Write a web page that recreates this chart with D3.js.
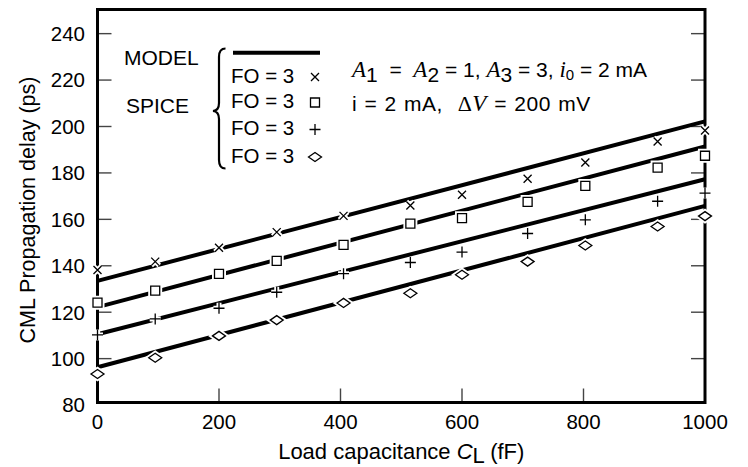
<!DOCTYPE html>
<html><head><meta charset="utf-8">
<script src="https://cdn.jsdelivr.net/npm/d3@7"></script>
<style>html,body{margin:0;padding:0;background:#fff;}svg{display:block;} text{white-space:pre;}</style>
</head><body>
<script>
// ---- data ----
const xValues = [0, 95, 200, 295, 405, 515, 600, 708, 803, 922, 1000];
const spiceCross   = [138.2, 141.8, 147.8, 154.5, 161.5, 166.0, 170.6, 177.5, 184.5, 193.5, 198.3];
const spiceSquare  = [124.1, 129.3, 136.5, 142.1, 149.0, 158.2, 160.5, 167.5, 174.4, 182.3, 187.4];
const spicePlus    = [110.2, 117.1, 121.7, 128.6, 136.6, 141.4, 145.9, 153.9, 159.8, 167.8, 171.3];
const spiceDiamond = [93.4, 100.4, 109.8, 116.6, 124.0, 128.2, 136.1, 141.8, 148.7, 156.9, 161.4];
const modelX = [0, 1000];
const modelCross   = [133.5, 202.2];
const modelSquare  = [122.2, 191.4];
const modelPlus    = [110.5, 177.3];
const modelDiamond = [96.3, 165.8];
const legendLabels = ["FO = 3", "FO = 3", "FO = 3", "FO = 3"];
const yTicks = [80, 100, 120, 140, 160, 180, 200, 220, 240];
const xTicks = [0, 200, 400, 600, 800, 1000];

const W = 748, H = 467;
const FONT = "'Liberation Sans', Arial, Helvetica, sans-serif";
const SERIF = "'Liberation Serif', 'Times New Roman', serif";

const svg = d3.select("body").append("svg").attr("width", W).attr("height", H)
  .style("font-family", FONT);

const x = d3.scaleLinear().domain([0, 1000]).range([97.5, 705]);
const y = d3.scaleLinear().domain([81.1, 250.4]).range([402.5, 9.5]);

// ticks (inward)
const tickG = svg.append("g").attr("stroke", "#444").attr("stroke-width", 1.4);
yTicks.filter(v => v > 81.1).forEach(v => {
  tickG.append("line").attr("x1", x(0)).attr("x2", x(0) + 14).attr("y1", y(v)).attr("y2", y(v));
  tickG.append("line").attr("x1", x(1000)).attr("x2", x(1000) - 14).attr("y1", y(v)).attr("y2", y(v));
});
xTicks.filter(v => v > 0 && v < 1000).forEach(v => {
  tickG.append("line").attr("x1", x(v)).attr("x2", x(v)).attr("y1", y(81.1)).attr("y2", y(81.1) - 14);
});

// frame
svg.append("rect").attr("x", x(0)).attr("y", y(250.4))
  .attr("width", x(1000) - x(0)).attr("height", y(81.1) - y(250.4))
  .attr("fill", "none").attr("stroke", "#000").attr("stroke-width", 3);

// tick labels
svg.append("g").selectAll("text").data(yTicks).join("text")
  .attr("x", 85).attr("y", d => y(d)).attr("dy", "0.36em")
  .attr("text-anchor", "end").attr("font-size", 20.5).text(d => d);
svg.append("g").selectAll("text").data(xTicks).join("text")
  .attr("x", d => x(d)).attr("y", 428.5)
  .attr("text-anchor", "middle").attr("font-size", 20.5).text(d => d);

// axis titles
const xt = svg.append("text").attr("x", x(500)).attr("y", 459)
  .attr("text-anchor", "middle").attr("font-size", 22);
xt.append("tspan").text("Load capacitance ");
xt.append("tspan").attr("font-style", "italic").text("C");
xt.append("tspan").attr("dy", 4).text("L");
xt.append("tspan").attr("dy", -4).text(" (fF)");

svg.append("text").attr("transform", "translate(35,210) rotate(-90)")
  .attr("text-anchor", "middle").attr("font-size", 21.5).text("CML Propagation delay (ps)");

// model lines
const line = d3.line().x(d => x(d[0])).y(d => y(d[1]));
[modelCross, modelSquare, modelPlus, modelDiamond].forEach(m => {
  svg.append("path").attr("d", line(modelX.map((xv, i) => [xv, m[i]])))
    .attr("fill", "none").attr("stroke", "#000").attr("stroke-width", 4);
});

// marker shapes
const shapes = {
  cross:   "M-4,-4L4,4M-4,4L4,-4",
  square:  "M-4.5,-4.5H4.5V4.5H-4.5Z",
  plus:    "M-5.5,0H5.5M0,-5.5V5.5",
  diamond: "M-6.5,0L0,-4.5L6.5,0L0,4.5Z"
};
const filled = {cross: false, square: true, plus: false, diamond: true};
function marker(g, shape, cx, cy) {
  g.append("path").attr("d", shapes[shape]).attr("transform", `translate(${cx},${cy})`)
    .attr("fill", filled[shape] ? "#fff" : "none").attr("stroke", "#fff").attr("stroke-width", 5);
  g.append("path").attr("d", shapes[shape]).attr("transform", `translate(${cx},${cy})`)
    .attr("fill", filled[shape] ? "#fff" : "none").attr("stroke", "#000").attr("stroke-width", 1.3);
}
const series = [["cross", spiceCross], ["square", spiceSquare], ["plus", spicePlus], ["diamond", spiceDiamond]];
const mg = svg.append("g");
series.forEach(([s, vals]) => vals.forEach((v, i) => marker(mg, s, x(xValues[i]), y(v))));

// legend
svg.append("text").attr("x", 124).attr("y", 64.5).attr("font-size", 21).text("MODEL");
svg.append("text").attr("x", 126).attr("y", 113).attr("font-size", 21).text("SPICE");
svg.append("line").attr("x1", 233).attr("x2", 320).attr("y1", 52.7).attr("y2", 52.7)
  .attr("stroke", "#000").attr("stroke-width", 4);
svg.append("path")
  .attr("d", "M225.5,48.5 Q219,48.5 219,57 L219,103 Q219,110.5 213,111 Q219,111.5 219,119 L219,160 Q219,168.5 225.5,168.5")
  .attr("fill", "none").attr("stroke", "#000").attr("stroke-width", 2.2);
const legY = [82.5, 108, 135, 162.5];
const lg = svg.append("g");
series.forEach(([s], i) => {
  lg.append("text").attr("x", 231).attr("y", legY[i]).attr("font-size", 20.5).text(legendLabels[i]);
  marker(lg, s, 315, legY[i] - 5.5);
});

// annotation
const AF = 21;
const a1 = svg.append("text").attr("x", 352).attr("y", 77).attr("font-size", AF);
a1.append("tspan").attr("font-family", SERIF).attr("font-style", "italic").attr("font-size", 23).text("A");
a1.append("tspan").attr("dy", 5).text("1");
a1.append("tspan").attr("dy", -5).text("  =  ");
a1.append("tspan").attr("font-family", SERIF).attr("font-style", "italic").attr("font-size", 23).text("A");
a1.append("tspan").attr("dy", 5).text("2");
a1.append("tspan").attr("dy", -5).text(" = 1, ");
a1.append("tspan").attr("font-family", SERIF).attr("font-style", "italic").attr("font-size", 23).text("A");
a1.append("tspan").attr("dy", 5).text("3");
a1.append("tspan").attr("dy", -5).text(" = 3, ");
a1.append("tspan").attr("font-family", SERIF).attr("font-style", "italic").attr("font-size", 23).text("i");
a1.append("tspan").attr("dy", 3).attr("font-size", 15).text("0");
a1.append("tspan").attr("dy", -3).text(" = 2 mA");

const a2 = svg.append("text").attr("x", 352).attr("y", 111).attr("font-size", AF)
  .attr("word-spacing", 1).attr("letter-spacing", 0.5);
a2.append("tspan").text("i = 2 mA,  ");
a2.append("tspan").attr("font-family", SERIF).attr("font-size", 22).text("Δ");
a2.append("tspan").attr("font-family", SERIF).attr("font-style", "italic").attr("font-size", 23).text("V");
a2.append("tspan").text(" = 200 mV");
</script>
</body></html>
